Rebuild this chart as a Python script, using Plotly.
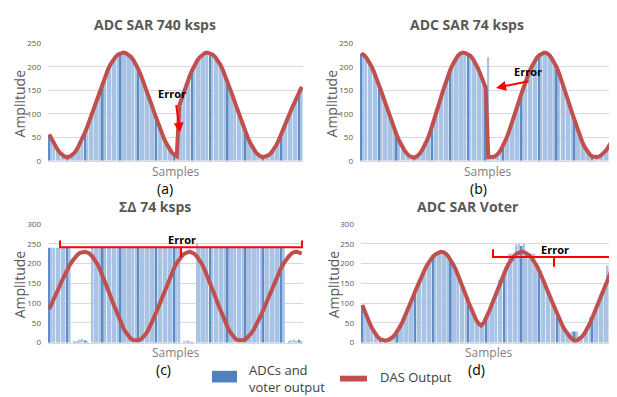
import plotly.graph_objects as go

samples = list(range(100))

# (a) ADC SAR 740 ksps
das_a = [56, 45, 35, 26, 18, 13, 9, 8, 9, 13,
         18, 26, 36, 47, 60, 74, 89, 105, 121, 137,
         153, 167, 181, 194, 205, 214, 221, 226, 229, 230,
         229, 226, 221, 214, 205, 194, 181, 167, 153, 137,
         121, 105, 89, 74, 60, 47, 36, 26, 18, 13,
         10, 118, 135, 150, 165, 179, 192, 203, 213, 220,
         226, 229, 230, 229, 226, 221, 214, 205, 194, 181,
         167, 153, 137, 121, 105, 89, 74, 60, 47, 36,
         26, 18, 13, 9, 8, 9, 12, 17, 24, 33,
         44, 56, 69, 83, 97, 110, 123, 135, 146, 157]
adc_a = [56, 45, 35, 26, 18, 13, 9, 8, 9, 13,
         18, 26, 36, 47, 60, 74, 89, 105, 121, 137,
         153, 167, 181, 194, 205, 214, 221, 226, 229, 230,
         229, 226, 221, 214, 205, 194, 181, 167, 153, 137,
         121, 105, 89, 74, 60, 47, 36, 26, 18, 13,
         10, 77, 135, 150, 165, 179, 192, 203, 213, 220,
         226, 229, 230, 229, 226, 221, 214, 205, 194, 181,
         167, 153, 137, 121, 105, 89, 74, 60, 47, 36,
         26, 18, 13, 9, 8, 9, 12, 17, 24, 33,
         44, 56, 69, 83, 97, 110, 123, 135, 146, 157]

# (b) ADC SAR 74 ksps
das_b = [228, 225, 219, 211, 201, 189, 176, 161, 146, 130,
         114, 98, 83, 68, 54, 42, 31, 22, 15, 10,
         8, 7, 10, 15, 23, 33, 45, 59, 75, 92,
         110, 128, 146, 163, 179, 193, 205, 215, 223, 228,
         230, 229, 227, 223, 216, 207, 196, 183, 169, 155,
         8, 7, 8, 11, 16, 24, 34, 46, 60, 75,
         91, 108, 125, 142, 158, 173, 187, 199, 210, 218,
         224, 228, 230, 229, 225, 218, 209, 198, 184, 169,
         153, 136, 119, 102, 85, 69, 54, 40, 29, 20,
         13, 9, 8, 8, 10, 14, 20, 27, 36, 45]
adc_b = [228, 225, 219, 211, 201, 189, 176, 161, 146, 130,
         114, 98, 83, 68, 54, 42, 31, 22, 15, 10,
         8, 7, 10, 15, 23, 33, 45, 59, 75, 92,
         110, 128, 146, 163, 179, 193, 205, 215, 223, 228,
         230, 229, 227, 223, 216, 207, 196, 183, 169, 155,
         220, 7, 8, 11, 16, 24, 34, 46, 60, 75,
         91, 108, 125, 142, 158, 173, 187, 199, 210, 218,
         224, 228, 230, 229, 225, 218, 209, 198, 184, 169,
         153, 136, 119, 102, 85, 69, 54, 40, 29, 20,
         13, 9, 8, 8, 10, 14, 20, 27, 36, 45]

# (c) Sigma-Delta 74 ksps
das_c = [85, 98, 112, 127, 142, 157, 171, 184, 196, 206,
         215, 222, 227, 229, 230, 228, 224, 217, 208, 197,
         183, 168, 152, 135, 118, 100, 83, 67, 52, 38,
         26, 17, 10, 6, 5, 6, 9, 15, 23, 34,
         47, 61, 77, 93, 110, 127, 144, 160, 175, 189,
         201, 211, 219, 225, 228, 230, 228, 224, 217, 208,
         197, 183, 168, 152, 135, 118, 100, 83, 67, 52,
         38, 26, 17, 10, 6, 5, 6, 9, 15, 22,
         31, 42, 55, 69, 84, 100, 116, 132, 148, 163,
         177, 190, 201, 211, 219, 225, 229, 230, 228, 225]
adc_c = [240, 240, 240, 240, 240, 240, 240, 240, 240, 0,
         2, 4, 7, 9, 6, 3, 0, 240, 240, 240,
         240, 240, 240, 240, 240, 240, 240, 240, 240, 240,
         240, 240, 240, 240, 240, 240, 240, 240, 240, 240,
         240, 240, 240, 240, 240, 240, 240, 240, 240, 240,
         240, 240, 0, 2, 5, 3, 1, 0, 252, 240,
         240, 240, 240, 240, 240, 240, 240, 240, 240, 240,
         240, 240, 240, 240, 240, 240, 240, 240, 240, 240,
         240, 240, 240, 240, 240, 240, 240, 240, 240, 240,
         240, 240, 240, 0, 3, 6, 8, 5, 7, 2]

# (d) ADC SAR Voter
das_d = [95, 78, 62, 48, 35, 24, 15, 9, 6, 5,
         6, 9, 14, 21, 30, 41, 54, 68, 83, 99,
         115, 131, 147, 162, 176, 189, 200, 210, 218, 224,
         228, 230, 229, 225, 218, 209, 197, 184, 169, 153,
         136, 119, 102, 86, 71, 58, 48, 43, 50, 62,
         77, 93, 110, 127, 144, 160, 175, 189, 201, 211,
         219, 225, 228, 230, 229, 226, 221, 214, 205, 194,
         181, 167, 152, 136, 120, 104, 88, 72, 58, 45,
         33, 23, 15, 9, 5, 6, 10, 16, 25, 36,
         49, 64, 80, 97, 114, 131, 148, 163, 177, 190]
adc_d = [95, 78, 62, 48, 35, 24, 15, 9, 6, 5,
         6, 9, 14, 21, 30, 41, 54, 68, 83, 99,
         115, 131, 147, 162, 176, 189, 200, 210, 218, 224,
         228, 230, 229, 225, 218, 209, 197, 184, 169, 153,
         136, 119, 102, 86, 71, 58, 48, 43, 50, 62,
         77, 93, 110, 127, 160, 160, 175, 189, 225, 225,
         225, 248, 250, 245, 250, 226, 221, 225, 225, 194,
         181, 160, 160, 136, 120, 104, 88, 72, 58, 45,
         33, 25, 25, 28, 28, 28, 10, 16, 25, 36,
         65, 64, 90, 97, 114, 131, 148, 195, 195, 190]

titles = ["ADC SAR 740 ksps", "ADC SAR 74 ksps", "ΣΔ 74 ksps", "ADC SAR Voter"]
letters = ["(a)", "(b)", "(c)", "(d)"]
y_ticks_top = [0, 50, 100, 150, 200, 250]
y_ticks_bottom = [0, 50, 100, 150, 200, 250, 300]

W, H = 617, 397
OFF = 8  # page body margin offset
FONT = "Open Sans"


def px(x, y):
    return (x - OFF) / W, 1 - (y - OFF) / H


BAR_LIGHT = "#a9c3e5"
BAR_DARK = "#5e8cc7"
bar_colors = [BAR_DARK if i % 7 == 0 else BAR_LIGHT for i in samples]
LINE_COLOR = "#c0504d"

panels = [
    (adc_a, das_a, "x", "y"),
    (adc_b, das_b, "x2", "y2"),
    (adc_c, das_c, "x3", "y3"),
    (adc_d, das_d, "x4", "y4"),
]

fig = go.Figure()
for adc, das, xa, ya in panels:
    fig.add_trace(go.Bar(x=samples, y=adc, xaxis=xa, yaxis=ya,
                         marker=dict(color=bar_colors, line=dict(width=0)),
                         showlegend=False))
    fig.add_trace(go.Scatter(x=samples, y=das, xaxis=xa, yaxis=ya, mode="lines",
                             line=dict(color=LINE_COLOR, width=4),
                             showlegend=False))

# plot areas in pixels (left, right, top, bottom)
areas = [(48, 303, 38, 159), (360, 614, 38, 159), (48, 303, 224, 346), (361, 614, 224, 346)]
ranges = [[0, 250], [0, 250], [0, 300], [0, 300]]
ticks = [y_ticks_top, y_ticks_top, y_ticks_bottom, y_ticks_bottom]

layout = dict(width=W, height=H, margin=dict(l=0, r=0, t=0, b=0),
              paper_bgcolor="white", plot_bgcolor="white", bargap=0.3,
              font=dict(family=FONT, color="#595959"))
for k, (l, r, t, b) in enumerate(areas):
    sfx = "" if k == 0 else str(k + 1)
    x0, y0 = px(l, b)
    x1, y1 = px(r, t)
    layout["xaxis" + sfx] = dict(domain=[x0, x1], range=[-0.5, 99.5],
                                 showticklabels=False, showgrid=False, zeroline=False,
                                 showline=True, linecolor="#d9d9d9", linewidth=1,
                                 anchor="y" + sfx, fixedrange=True)
    layout["yaxis" + sfx] = dict(domain=[y0, y1], range=ranges[k],
                                 tickvals=ticks[k], showgrid=True, gridcolor="#d9d9d9",
                                 gridwidth=1, zeroline=False, showline=False,
                                 tickfont=dict(size=8, color="#595959", family=FONT),
                                 ticks="", ticklabelstandoff=6,
                                 anchor="x" + sfx, fixedrange=True)
fig.update_layout(**layout)

ann = []


def text(x, y, s, size, color="#595959", bold=False, angle=0, xanchor="center"):
    X, Y = px(x, y)
    ann.append(dict(x=X, y=Y, xref="paper", yref="paper", text=("<b>%s</b>" % s) if bold else s,
                    showarrow=False, textangle=angle, xanchor=xanchor, yanchor="middle",
                    align="left" if xanchor == "left" else "center",
                    font=dict(family=FONT, size=size, color=color)))


title_pos = [(155, 19), (467, 19), (155, 206), (468, 206)]
amp_pos = [(19, 100), (331, 100), (19, 286), (333, 286)]
samp_pos = [(175, 170), (487, 170), (175, 356), (488, 356)]
let_pos = [(165, 187.5), (478, 187.5), (164, 373.5), (476, 374)]
for k in range(4):
    text(*title_pos[k], titles[k], 14, bold=True)
    text(*amp_pos[k], "Amplitude", 14, angle=-90)
    text(*samp_pos[k], "Samples", 12, color="#7f7f7f")
    text(*let_pos[k], letters[k], 14, color="#000000")

for (x, y) in [(172, 90), (528, 67), (182, 240), (555, 250)]:
    text(x, y, "Error", 11, color="#000000", bold=True)

RED = "#ff0000"
# arrows
for (hx, hy, tx, ty) in [(180, 130, 176, 101), (496, 84, 530, 77)]:
    X, Y = px(hx, hy)
    ann.append(dict(x=X, y=Y, xref="paper", yref="paper", text="", showarrow=True,
                    ax=tx - hx, ay=ty - hy, arrowcolor=RED, arrowwidth=2,
                    arrowhead=2, arrowsize=1))

# legend text
text(247, 382.5, "ADCs and<br>voter output", 13, color="#404040", xanchor="left")
text(378, 381, "DAS Output", 13, color="#404040", xanchor="left")
fig.update_layout(annotations=ann)

shapes = []


def path(points):
    s = ""
    for j, (x, y) in enumerate(points):
        X, Y = px(x, y)
        s += ("M" if j == 0 else " L") + " %.5f,%.5f" % (X, Y)
    return s


for (x0, x1, xm, yb, yt, ym) in [(60, 302, 181, 248, 241, 258), (493, 613, 554, 258, 250, 268)]:
    shapes.append(dict(type="path", xref="paper", yref="paper",
                       path=path([(x0, yt), (x0, yb), (x1, yb), (x1, yt)]),
                       line=dict(color=RED, width=2)))
    shapes.append(dict(type="path", xref="paper", yref="paper",
                       path=path([(xm, yb), (xm, ym)]),
                       line=dict(color=RED, width=2)))

# legend swatches
bx0, by0 = px(212, 375)
bx1, by1 = px(237, 387)
shapes.append(dict(type="rect", xref="paper", yref="paper", x0=bx0, x1=bx1, y0=by1, y1=by0,
                   fillcolor="#4f81bd", line=dict(width=0)))
rx0, ry0 = px(340, 380)
rx1, ry1 = px(367, 386)
shapes.append(dict(type="rect", xref="paper", yref="paper", x0=rx0, x1=rx1, y0=ry1, y1=ry0,
                   fillcolor=LINE_COLOR, line=dict(width=0)))
fig.update_layout(shapes=shapes)

fig.write_html("out.html")
